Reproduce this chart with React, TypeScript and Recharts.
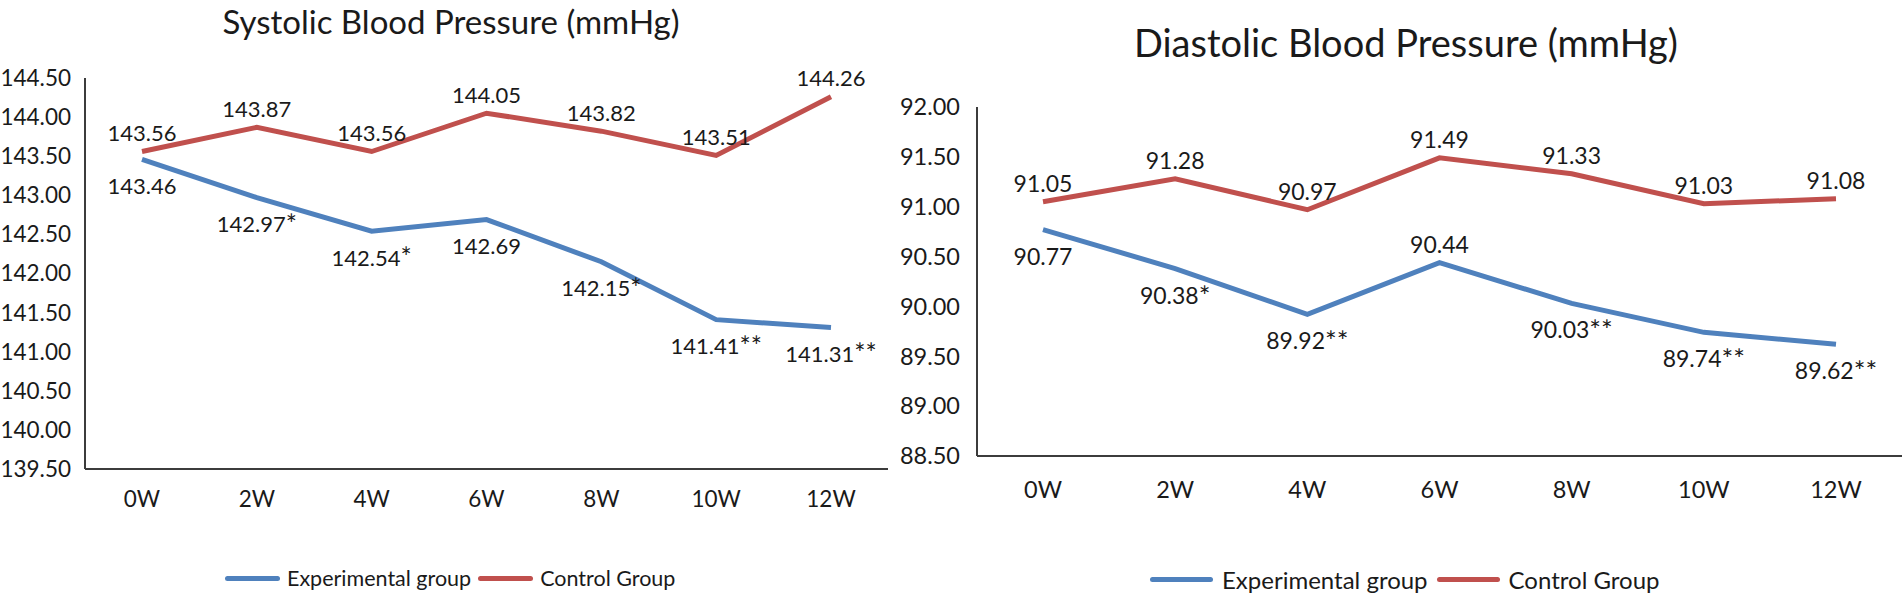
import React from "react";
import { LineChart, Line, XAxis, YAxis, LabelList, Legend } from "recharts";

const weeks = ["0W", "2W", "4W", "6W", "8W", "10W", "12W"];

const sysExperimental = [143.46, 142.97, 142.54, 142.69, 142.15, 141.41, 141.31];
const sysControl = [143.56, 143.87, 143.56, 144.05, 143.82, 143.51, 144.26];
const sysExpMarks = ["", "*", "*", "", "*", "**", "**"];
const sysTicks = [139.5, 140, 140.5, 141, 141.5, 142, 142.5, 143, 143.5, 144, 144.5];

const diaExperimental = [90.77, 90.38, 89.92, 90.44, 90.03, 89.74, 89.62];
const diaControl = [91.05, 91.28, 90.97, 91.49, 91.33, 91.03, 91.08];
const diaExpMarks = ["", "*", "**", "", "**", "**", "**"];
const diaTicks = [88.5, 89, 89.5, 90, 90.5, 91, 91.5, 92];

const BLUE = "#4f81bd";
const RED = "#c0504d";
const AXIS = "#3c3c3c";
const TEXT = "#1a1a1a";
const FONT = "Lato, 'Open Sans', sans-serif";

const sysData = weeks.map((w, i) => ({
  week: w,
  exp: sysExperimental[i],
  ctrl: sysControl[i],
}));

const diaData = weeks.map((w, i) => ({
  week: w,
  exp: diaExperimental[i],
  ctrl: diaControl[i],
}));

// data labels: control above the line, experimental below (with a few exceptions)
function pointLabel(marks: string[], below: boolean, fontSize: number, upIdx: number[] = []) {
  return (props: any) => {
    const { x, y, value, index } = props;
    const up = !below || upIdx.includes(index);
    const dy = up ? -19 : 26;
    const mark = marks[index] || "";
    return (
      <text
        x={x}
        y={y + dy}
        textAnchor="middle"
        dominantBaseline="central"
        fontSize={fontSize}
        fontFamily={FONT}
        fill={TEXT}
      >
        {Number(value).toFixed(2)}
        {mark && <tspan fontSize={fontSize * 1.2}>{mark}</tspan>}
      </text>
    );
  };
}

function legendContent(fontSize: number, lineW: number, gap: number) {
  return () => (
    <div
      style={{
        display: "flex",
        alignItems: "center",
        fontFamily: FONT,
        fontSize,
        color: TEXT,
        whiteSpace: "nowrap",
      }}
    >
      <span style={{ width: lineW, height: 5, background: BLUE, borderRadius: 3 }} />
      <span style={{ marginLeft: gap, marginRight: gap }}>Experimental group</span>
      <span style={{ width: lineW, height: 5, background: RED, borderRadius: 3 }} />
      <span style={{ marginLeft: gap }}>Control Group</span>
    </div>
  );
}

interface PanelProps {
  data: { week: string; exp: number; ctrl: number }[];
  ticks: number[];
  marks: string[];
  width: number;
  top: number;
  bottom: number;
  yAxisWidth: number;
  pad: number;
  tickFont: number;
  labelFont: number;
  xTickMargin: number;
  yTickMargin: number;
  legendLeft: number;
  legendFont: number;
  legendLine: number;
  legendGap: number;
  upIdx?: number[];
}

function Panel(p: PanelProps) {
  return (
    <LineChart
      width={p.width}
      height={601}
      data={p.data}
      margin={{ top: p.top, right: 0, bottom: 0, left: 0 }}
    >
      <XAxis
        dataKey="week"
        height={601 - p.bottom}
        padding={{ left: p.pad, right: p.pad }}
        axisLine={{ stroke: AXIS, strokeWidth: 2 }}
        tickLine={false}
        tickSize={0}
        tickMargin={p.xTickMargin}
        tick={{ fill: TEXT, fontSize: p.tickFont, fontFamily: FONT }}
        interval={0}
      />
      <YAxis
        domain={[p.ticks[0], p.ticks[p.ticks.length - 1]]}
        ticks={p.ticks}
        width={p.yAxisWidth}
        axisLine={{ stroke: AXIS, strokeWidth: 2 }}
        tickLine={false}
        tickSize={0}
        tickMargin={p.yTickMargin}
        tick={{ fill: TEXT, fontSize: p.tickFont, fontFamily: FONT }}
        tickFormatter={(v) => Number(v).toFixed(2)}
        allowDataOverflow
      />
      <Legend
        content={legendContent(p.legendFont, p.legendLine, p.legendGap)}
        wrapperStyle={{ position: "absolute", left: p.legendLeft, top: 565, width: "auto" }}
      />
      <Line
        dataKey="exp"
        name="Experimental group"
        stroke={BLUE}
        strokeWidth={5}
        dot={false}
        activeDot={false}
        isAnimationActive={false}
      >
        <LabelList dataKey="exp" content={pointLabel(p.marks, true, p.labelFont, p.upIdx)} />
      </Line>
      <Line
        dataKey="ctrl"
        name="Control Group"
        stroke={RED}
        strokeWidth={5}
        dot={false}
        activeDot={false}
        isAnimationActive={false}
      >
        <LabelList dataKey="ctrl" content={pointLabel([], false, p.labelFont)} />
      </Line>
    </LineChart>
  );
}

export default function App() {
  return (
    <div
      style={{
        position: "absolute",
        left: 0,
        top: 0,
        width: 1902,
        height: 601,
        background: "#fff",
        overflow: "hidden",
      }}
    >
      <div
        style={{
          position: "absolute",
          left: 0,
          top: 0,
          width: 902,
          textAlign: "center",
          fontFamily: FONT,
          fontSize: 33,
          color: TEXT,
          lineHeight: "42px",
        }}
      >
        Systolic Blood Pressure (mmHg)
      </div>
      <div
        style={{
          position: "absolute",
          left: 1006,
          top: 20,
          width: 800,
          textAlign: "center",
          fontFamily: FONT,
          fontSize: 38,
          color: TEXT,
          lineHeight: "44px",
        }}
      >
        Diastolic Blood Pressure (mmHg)
      </div>

      <div style={{ position: "absolute", left: 0, top: 0 }}>
        <Panel
          data={sysData}
          ticks={sysTicks}
          marks={sysExpMarks}
          width={888}
          top={78}
          bottom={495}
          yAxisWidth={85}
          pad={57}
          tickFont={22.5}
          labelFont={22}
          xTickMargin={22}
          yTickMargin={14}
          legendLeft={225}
          legendFont={21.5}
          legendLine={55}
          legendGap={7}
        />
      </div>

      <div style={{ position: "absolute", left: 890, top: 0 }}>
        <Panel
          data={diaData}
          ticks={diaTicks}
          marks={diaExpMarks}
          width={1012}
          top={107}
          bottom={485}
          yAxisWidth={87}
          pad={66}
          tickFont={23.5}
          labelFont={23}
          xTickMargin={25}
          yTickMargin={17}
          legendLeft={260}
          legendFont={24}
          legendLine={63}
          legendGap={9}
          upIdx={[3]}
        />
      </div>
    </div>
  );
}
